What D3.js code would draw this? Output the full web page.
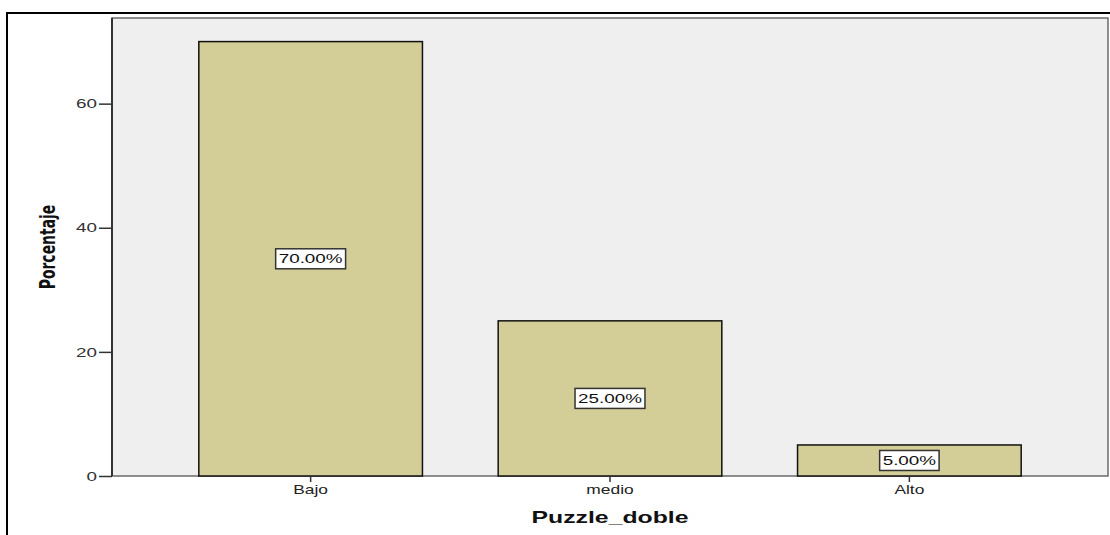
<!DOCTYPE html>
<html>
<head>
<meta charset="utf-8">
<script src="https://d3js.org/d3.v7.min.js"></script>
<style>
  body { margin: 0; background: #fff; }
  svg { display: block; }
</style>
</head>
<body>
<div id="chart"></div>
<script>
// data
var categories = ["Bajo", "medio", "Alto"];
var percents = [70, 25, 5];
var yTicks = [0, 20, 40, 60];
var xTitle = "Puzzle_doble";
var yTitle = "Porcentaje";

var W = 1110, H = 535;
var plot = {left: 112, top: 18, right: 1108, bottom: 476};
// the original picture is stretched sideways, so text gets a horizontal scale
var stretch = 1.45;
var font = "Arial, 'Liberation Sans', sans-serif";

var svg = d3.select("#chart").append("svg")
  .attr("width", W)
  .attr("height", H);

// outer frame (only top and left are visible)
svg.append("path")
  .attr("d", "M7," + H + "V13H" + W)
  .attr("fill", "none")
  .attr("stroke", "#000")
  .attr("stroke-width", 2);

var x = d3.scaleBand()
  .domain(categories)
  .range([plot.left, plot.right])
  .paddingInner(0.253)
  .paddingOuter(0.29);

var y = d3.scaleLinear()
  .domain([0, 73.8])
  .range([plot.bottom, plot.top]);

// plot background
svg.append("rect")
  .attr("x", plot.left)
  .attr("y", plot.top)
  .attr("width", plot.right - plot.left)
  .attr("height", plot.bottom - plot.top)
  .attr("fill", "#efefef")
  .attr("stroke", "#6a6a6a")
  .attr("stroke-width", 1.5);

// bars
svg.selectAll(".bar")
  .data(percents)
  .enter()
  .append("rect")
    .attr("class", "bar")
    .attr("x", function(d, i) { return x(categories[i]); })
    .attr("y", function(d) { return y(d); })
    .attr("width", x.bandwidth())
    .attr("height", function(d) { return y(0) - y(d); })
    .attr("fill", "#d3ce97")
    .attr("stroke", "#111")
    .attr("stroke-width", 1.5);

// left axis line drawn darker
svg.append("line")
  .attr("x1", plot.left).attr("x2", plot.left)
  .attr("y1", plot.top).attr("y2", plot.bottom)
  .attr("stroke", "#333").attr("stroke-width", 2);

// y axis
var yAxis = svg.append("g")
  .attr("transform", "translate(" + plot.left + ",0)")
  .call(d3.axisLeft(y).tickValues(yTicks).tickSize(13).tickPadding(3).tickFormat(d3.format("d")));
yAxis.select(".domain").remove();
yAxis.selectAll(".tick line").attr("stroke", "#333").attr("stroke-width", 1.5);
yAxis.selectAll(".tick text")
  .attr("x", -15 / stretch)
  .attr("transform", "scale(" + stretch + ",1)")
  .style("font-family", font)
  .style("font-size", "13px")
  .attr("fill", "#333");

// x axis
var xAxis = svg.append("g")
  .attr("transform", "translate(0," + plot.bottom + ")")
  .call(d3.axisBottom(x).tickSize(6).tickPadding(3));
xAxis.select(".domain").remove();
xAxis.selectAll(".tick line").attr("stroke", "#333").attr("stroke-width", 1.5);
xAxis.selectAll(".tick text")
  .attr("transform", "scale(" + stretch + ",1)")
  .style("font-family", font)
  .style("font-size", "12px")
  .attr("fill", "#222");

// value labels in boxes
var labels = svg.selectAll(".lbl")
  .data(percents)
  .enter()
  .append("g")
    .attr("class", "lbl")
    .attr("transform", function(d, i) {
      return "translate(" + (x(categories[i]) + x.bandwidth() / 2) + "," + y(d / 2) + ")";
    });

labels.append("text")
  .attr("text-anchor", "middle")
  .attr("dy", "0.36em")
  .attr("transform", "scale(" + stretch + ",1)")
  .style("font-family", font)
  .style("font-size", "13px")
  .attr("fill", "#111")
  .text(function(d) { return d.toFixed(2) + "%"; });

labels.each(function() {
  var g = d3.select(this);
  var b = g.select("text").node().getBBox();
  var w = b.width * stretch + 6;
  g.insert("rect", "text")
    .attr("x", -w / 2)
    .attr("y", -10)
    .attr("width", w)
    .attr("height", 20)
    .attr("fill", "#fff")
    .attr("stroke", "#333")
    .attr("stroke-width", 1.5);
});

// axis titles
svg.append("text")
  .attr("transform", "translate(" + ((plot.left + plot.right) / 2) + ",523) scale(1.55,1)")
  .attr("text-anchor", "middle")
  .style("font-family", font)
  .style("font-size", "16px")
  .style("font-weight", "bold")
  .attr("fill", "#111")
  .text(xTitle);

svg.append("text")
  .attr("transform", "translate(55," + ((plot.top + plot.bottom) / 2) + ") scale(1.4,1) rotate(-90)")
  .attr("text-anchor", "middle")
  .style("font-family", "'Liberation Sans Narrow', 'DejaVu Sans Condensed', sans-serif")
  .style("font-size", "15.5px")
  .style("font-weight", "bold")
  .attr("fill", "#111")
  .text(yTitle);
</script>
</body>
</html>
